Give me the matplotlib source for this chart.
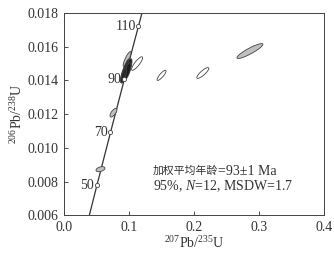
import numpy as np
import matplotlib
matplotlib.use("Agg")
import matplotlib.pyplot as plt
from matplotlib.patches import Polygon

plt.rcParams['font.family'] = ['Liberation Serif', 'Noto Sans CJK SC']
plt.rcParams['mathtext.fontset'] = 'custom'
plt.rcParams['mathtext.rm'] = 'Liberation Serif'
plt.rcParams['mathtext.it'] = 'Liberation Serif:italic'

# decay constants (1/Ma)
L238 = 1.55125e-4
L235 = 9.8485e-4

age_marks = [50, 70, 90, 110]

# ellipses: center x, center y, half-width x, half-width y, correlation, fill
ell_x = [0.056, 0.076, 0.0969, 0.0925, 0.0960, 0.0990, 0.0940, 0.0975, 0.0915, 0.1123, 0.150, 0.2135, 0.286]
ell_y = [0.00874, 0.01209, 0.01527, 0.01440, 0.01468, 0.01478, 0.01452, 0.01455, 0.01430, 0.01500, 0.01430, 0.01444, 0.01574]
ell_sx = [0.0069, 0.0054, 0.0060, 0.0055, 0.0060, 0.0055, 0.0055, 0.0055, 0.0045, 0.0085, 0.0069, 0.0092, 0.020]
ell_sy = [0.00015, 0.00026, 0.00044, 0.00055, 0.00060, 0.00050, 0.00055, 0.00050, 0.00045, 0.00040, 0.00030, 0.00032, 0.00044]
ell_rho = [0.4, 0.7, 0.85, 0.7, 0.7, 0.7, 0.7, 0.7, 0.7, 0.85, 0.85, 0.85, 0.9]
ell_fill = ['#c0c0c0', '#c0c0c0', '#c0c0c0', '#1e1e1e', '#2a2a2a', '#1e1e1e', '#2a2a2a', '#1e1e1e',
            '#2a2a2a', 'white', 'white', 'white', '#c0c0c0']


def ellipse_pts(cx, cy, sx, sy, rho, n=80):
    cov = np.array([[sx * sx, rho * sx * sy], [rho * sx * sy, sy * sy]])
    w, v = np.linalg.eigh(cov)
    t = np.linspace(0, 2 * np.pi, n)
    circ = np.vstack([np.cos(t), np.sin(t)])
    pts = v @ (np.sqrt(w)[:, None] * circ)
    return np.column_stack([pts[0] + cx, pts[1] + cy])


fig = plt.figure(figsize=(3.34, 2.58), dpi=100)
ax = fig.add_axes([0.192, 0.165, 0.778, 0.785])

t = np.linspace(30, 125, 300)
ax.plot(np.exp(L235 * t) - 1, np.exp(L238 * t) - 1, color='#333333', lw=0.9, zorder=2)

for cx, cy, sx, sy, r, fc in zip(ell_x, ell_y, ell_sx, ell_sy, ell_rho, ell_fill):
    ax.add_patch(Polygon(ellipse_pts(cx, cy, sx, sy, r), closed=True,
                         facecolor=fc, edgecolor='#444444', lw=0.6, zorder=3))

for a in age_marks:
    mx = np.exp(L235 * a) - 1
    my = np.exp(L238 * a) - 1
    ax.plot(mx, my, marker='o', ms=3, mfc='white', mec='#444444', mew=0.6, zorder=4)
    ax.text(mx - 0.004, my, str(a), ha='right', va='center', fontsize=10, color='#333333')

t1 = ax.text(0.137, 0.00865, '加权平均年龄', fontsize=7.8, color='#333333', va='center')
ax.annotate('=93±1 Ma', xy=(1, 0.45), xycoords=t1, fontsize=10, color='#333333', va='center')
ax.text(0.137, 0.00771, '95%, $N$=12, MSDW=1.7', fontsize=10, color='#333333', va='center')

ax.set_xlim(0, 0.4)
ax.set_ylim(0.006, 0.018)
ax.set_xticks([0.0, 0.1, 0.2, 0.3, 0.4])
ax.set_yticks([0.006, 0.008, 0.010, 0.012, 0.014, 0.016, 0.018])
ax.xaxis.set_major_formatter(matplotlib.ticker.FormatStrFormatter('%.1f'))
ax.yaxis.set_major_formatter(matplotlib.ticker.FormatStrFormatter('%.3f'))
ax.tick_params(direction='in', length=3, width=0.6, labelsize=10, colors='#333333', pad=4)
for s in ax.spines.values():
    s.set_linewidth(0.7)
    s.set_color('#444444')

ax.set_xlabel(r'$^{207}$Pb/$^{235}$U', fontsize=10, color='#333333', labelpad=1)
ax.set_ylabel(r'$^{206}$Pb/$^{238}$U', fontsize=10, color='#333333', labelpad=2)

fig.savefig('out.png', dpi=100)
